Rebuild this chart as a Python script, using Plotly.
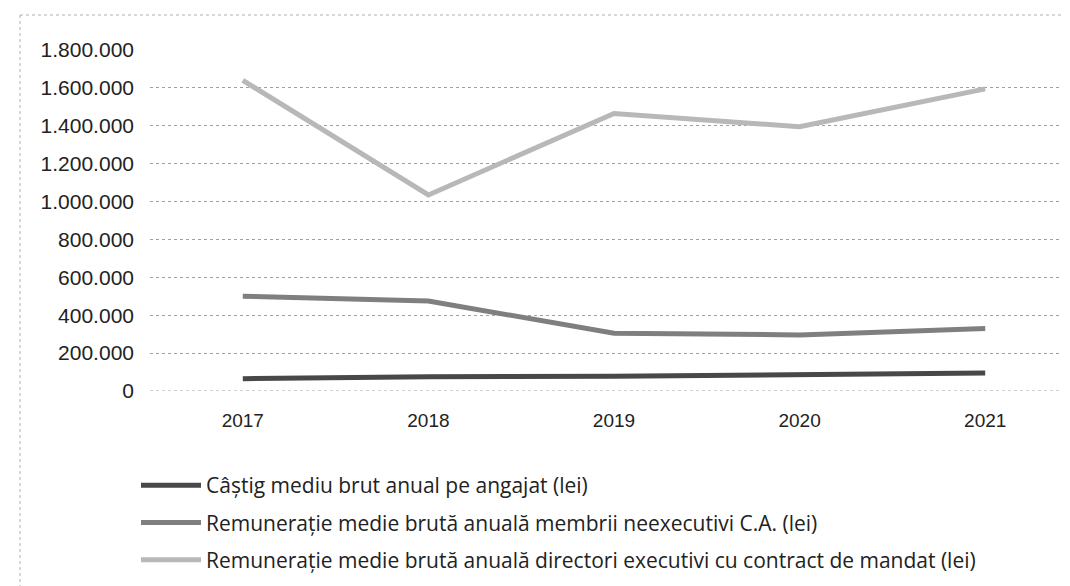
import plotly.graph_objects as go

years = ["2017", "2018", "2019", "2020", "2021"]
castig_mediu = [65000, 75000, 78000, 85000, 95000]
remun_neexecutivi = [500000, 475000, 305000, 296000, 330000]
remun_directori = [1640000, 1035000, 1465000, 1395000, 1595000]

series_names = [
    "Câștig mediu brut anual pe angajat (lei)",
    "Remunerație medie brută anuală membrii neexecutivi C.A. (lei)",
    "Remunerație medie brută anuală directori executivi cu contract de mandat (lei)",
]
series_values = [castig_mediu, remun_neexecutivi, remun_directori]
series_colors = ["#484848", "#7f7f7f", "#b8b8b8"]

y_tickvals = [0, 200000, 400000, 600000, 800000, 1000000, 1200000, 1400000, 1600000, 1800000]
y_ticktext = ["0", "200.000", "400.000", "600.000", "800.000", "1.000.000",
              "1.200.000", "1.400.000", "1.600.000", "1.800.000"]

fig = go.Figure()
for i, (name, vals, col) in enumerate(zip(series_names, series_values, series_colors)):
    fig.add_trace(go.Scatter(
        x=list(range(len(years))), y=vals, mode="lines", name=name,
        line=dict(color=col, width=5), legendgroup=f"g{i}",
    ))

OFF = 8
W, H = 1070, 586
L, R, T, B = 150 - OFF, 0, 50 - OFF, H - (391 - OFF)
pw, ph = W - L - R, H - T - B

def px_x(px):
    return (px - OFF - L) / pw

def px_y(py):
    return (H - B - (py - OFF)) / ph

fig.update_layout(
    width=W, height=H,
    margin=dict(l=L, r=R, t=T, b=B, autoexpand=False),
    paper_bgcolor="white", plot_bgcolor="white",
    font=dict(family="Liberation Sans, Arial, sans-serif", color="#222222"),
    showlegend=True,
    legend=dict(
        orientation="v", x=px_x(136), xanchor="left", y=px_y(465), yanchor="top",
        font=dict(family="Open Sans, sans-serif", size=21, color="#222222"),
        tracegroupgap=7, itemwidth=60, bgcolor="rgba(0,0,0,0)",
    ),
    xaxis=dict(
        tickmode="array", tickvals=list(range(len(years))), ticktext=years,
        range=[-0.5, 4.5], showgrid=False, zeroline=False, showline=False,
        ticks="", ticklabelstandoff=16,
        tickfont=dict(size=19, color="#222222"),
    ),
    yaxis=dict(
        tickmode="array", tickvals=y_tickvals, ticktext=y_ticktext,
        range=[0, 1800000], showgrid=True, gridcolor="#a0a0a0", griddash="dot",
        gridwidth=1, zeroline=False, showline=False, ticks="",
        ticklabelstandoff=15, tickfont=dict(size=21, color="#222222"),
    ),
    shapes=[
        dict(type="line", xref="paper", yref="paper", x0=px_x(20), x1=px_x(1065),
             y0=px_y(15), y1=px_y(15), line=dict(color="#b0b0b0", width=1, dash="dot")),
        dict(type="line", xref="paper", yref="paper", x0=px_x(20), x1=px_x(20),
             y0=px_y(15), y1=px_y(600), line=dict(color="#b0b0b0", width=1, dash="dot")),
        dict(type="line", xref="paper", yref="y", x0=0, x1=1,
             y0=0, y1=0, line=dict(color="#a0a0a0", width=1, dash="dot")),
    ],
)

fig.write_html("out.html")
